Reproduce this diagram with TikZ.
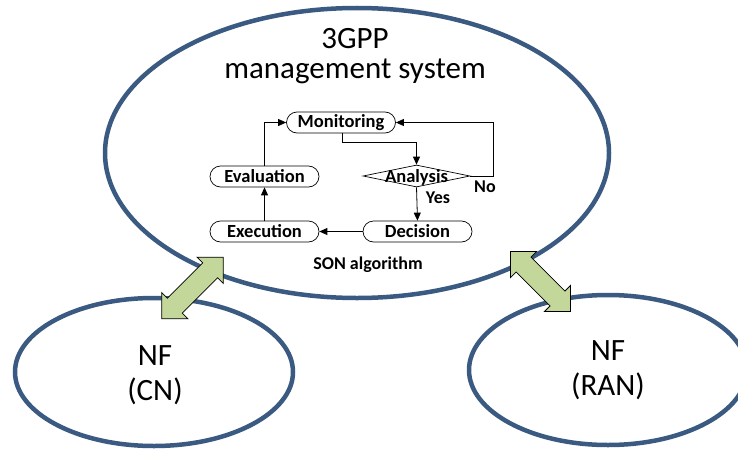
\documentclass[tikz,border=0pt]{standalone}
\usepackage{fontspec}
\setmainfont{Carlito}
\usetikzlibrary{shapes.geometric,shapes.misc,arrows.meta}
\definecolor{ellblue}{HTML}{3B5A82}
\definecolor{arrgreen}{HTML}{C4D79B}
\tikzset{
  ell/.style={draw=ellblue,line width=4.5pt},
  pill/.style={rounded rectangle,draw,line width=0.7pt,minimum width=109pt,minimum height=21pt,inner sep=0pt,font=\bfseries\fontsize{18.5}{20}\selectfont},
  dia/.style={diamond,draw,line width=0.7pt,minimum width=107pt,minimum height=22pt,aspect=5,inner sep=0pt},
  lbl/.style={font=\bfseries\fontsize{18}{20}\selectfont,inner sep=0pt},
  flow/.style={line width=0.8pt,-{Triangle[length=8pt,width=7pt]}},
  blockarrow/.style={draw=black,line width=0.8pt,fill=arrgreen,line join=miter},
  big/.style={font=\fontsize{31}{35}\selectfont,inner sep=0pt,align=center}
}
\newcommand{\blockarrowpath}[1]{%
  \pgfmathsetmacro{\hl}{#1/2}\pgfmathsetmacro{\hb}{#1/2-18.5}%
  \draw[blockarrow] (\hl,0) -- (\hb,-18.5) -- (\hb,-10.5) -- (-\hb,-10.5) -- (-\hb,-18.5) -- (-\hl,0)
    -- (-\hb,18.5) -- (-\hb,10.5) -- (\hb,10.5) -- (\hb,18.5) -- cycle;}
\begin{document}
\begin{tikzpicture}[x=1pt,y=-1pt]
\useasboundingbox (0,0) rectangle (738,452);
% ellipses
\draw[ell] (357,153) ellipse [x radius=252, y radius=145];
\draw[ell] (154,372) ellipse [x radius=139, y radius=74];
\draw[ell] (608,370) ellipse [x radius=139, y radius=75];
% main texts
\node[big,font=\fontsize{31}{30}\selectfont] (title) at (355,56) {3GPP\\management system};
\node[big] (cn) at (155,375) {NF\\(CN)};
\node[big] (ran) at (608,370) {NF\\(RAN)};
% flowchart
\node[pill] (mon) at (341,122.5) {Monitoring};
\node[pill] (eva) at (264.5,176.5) {Evaluation};
\node[pill] (exe) at (264.5,231.5) {Execution};
\node[pill] (dec) at (417.5,231.5) {Decision};
\node[dia] (ana) at (416.5,176) {};
\node[lbl,font=\bfseries\fontsize{18.5}{20}\selectfont] (anat) at (416.5,177) {Analysis};
\node[lbl] (yes) at (438,198) {Yes};
\node[lbl] (no) at (485,187) {No};
\node[lbl] (son) at (368,265) {SON algorithm};
\draw[flow] ([xshift=1pt]mon.south) -- ++(0,9) -| (ana.north);
\draw[flow] (ana.east) -- ++(23,0) |- (mon.east);
\draw[flow] (ana.south) -- (dec.north);
\draw[flow] (dec.west) -- (exe.east);
\draw[flow] (exe.north) -- (eva.south);
\draw[flow] (eva.north) |- (mon.west);
% block arrows
\coordinate (al) at (192.5,288);
\coordinate (ar) at (540.5,281.5);
\begin{scope}[shift={(al)},rotate=45]
  \blockarrowpath{87}
\end{scope}
\begin{scope}[shift={(ar)},rotate=-45]
  \blockarrowpath{85}
\end{scope}
\end{tikzpicture}
\end{document}
